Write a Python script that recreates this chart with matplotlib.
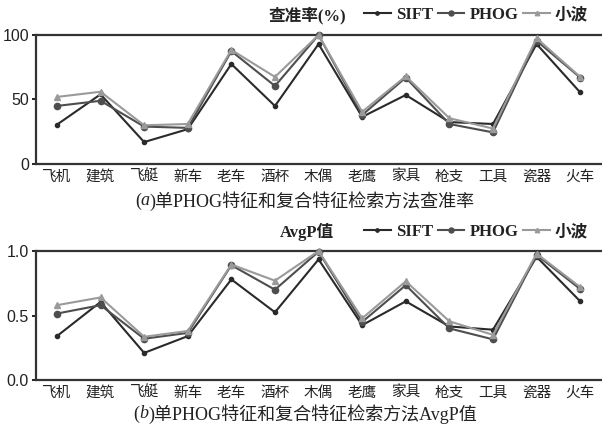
import matplotlib
matplotlib.use("Agg")
import matplotlib.pyplot as plt
from matplotlib.lines import Line2D

categories = ["飞机", "建筑", "飞艇", "新车", "老车", "酒杯", "木偶", "老鹰", "家具", "枪支", "工具", "瓷器", "火车"]

prec_sift = [30.5, 54, 17, 27, 77.5, 45, 93, 36.5, 53.5, 32.5, 31, 93, 55.5]
prec_phog = [45, 49, 29, 28, 87.5, 60.5, 100, 38, 67, 31, 24.5, 95.5, 67]
prec_wave = [52, 56, 30, 31, 88.5, 67.5, 100, 40.5, 68, 35.5, 27.5, 97.5, 67.5]

avgp_sift = [0.34, 0.605, 0.21, 0.34, 0.78, 0.525, 0.935, 0.425, 0.61, 0.415, 0.39, 0.955, 0.61]
avgp_phog = [0.515, 0.58, 0.32, 0.365, 0.89, 0.70, 0.995, 0.45, 0.735, 0.40, 0.315, 0.97, 0.705]
avgp_wave = [0.58, 0.64, 0.335, 0.38, 0.895, 0.77, 1.0, 0.478, 0.765, 0.455, 0.35, 0.98, 0.72]

series_names = ["SIFT", "PHOG", "小波"]
colors = ["#2a2a2a", "#4e4e4e", "#9a9a9a"]
markers = ["o", "o", "^"]
msizes = [3.0, 4.5, 4.0]

LAT = ["Liberation Serif", "Noto Sans CJK SC"]
CJK = ["Noto Sans CJK SC", "Liberation Serif"]

fig = plt.figure(figsize=(6.02, 4.34), dpi=100)
W, H = 602, 434

def make_ax(top_px, bot_px):
    return fig.add_axes([36 / W, 1 - bot_px / H, 1 - 36 / W, (bot_px - top_px) / H])

panels = [
    (35, 164, [prec_sift, prec_phog, prec_wave], 100, [0, 50, 100], ["0", "50", "100"],
     "查准率(%)", 15, "a", "单PHOG特征和复合特征检索方法查准率", 201),
    (251, 380, [avgp_sift, avgp_phog, avgp_wave], 1.0, [0, 0.5, 1.0], ["0.0", "0.5", "1.0"],
     "AvgP值", 232, "b", "单PHOG特征和复合特征检索方法AvgP值", 414),
]

fig.canvas.draw()
renderer = fig.canvas.get_renderer()

x = list(range(len(categories)))
for top, bot, data, ymax, yt, ytl, title, ty, letter, cap, cy in panels:
    ax = make_ax(top, bot)
    for vals, c, m, ms in zip(data, colors, markers, msizes):
        ax.plot(x, vals, color=c, lw=1.5, marker=m, ms=ms, mfc=c, mec=c, clip_on=False, zorder=3)
    ax.set_xlim(-0.48, 12.5)
    ax.set_ylim(0, ymax)
    ax.set_yticks(yt)
    ax.set_yticklabels(ytl, family="Liberation Sans", fontsize=11.5, color="#222222")
    ax.set_xticks(x)
    ax.set_xticklabels(categories, family=CJK, fontsize=10.5, fontweight="medium", color="#222222")
    ax.tick_params(axis="x", length=0, pad=4)
    ax.tick_params(axis="y", length=3, width=1.2, pad=2, direction="out")
    for s in ["left", "top", "bottom"]:
        ax.spines[s].set_linewidth(1.6)
        ax.spines[s].set_color("#333333")
    ax.spines["right"].set_visible(False)
    ax.patch.set_alpha(0)

    fig.text(307 / W, 1 - ty / H, title, family=LAT, fontsize=12, fontweight="bold",
             ha="center", va="center", color="#222222")
    handles = [Line2D([0], [0], color=c, lw=1.5, marker=m, ms=ms * 0.8, mfc=c, mec=c)
               for c, m, ms in zip(colors, markers, msizes)]
    leg = fig.legend(handles, series_names, loc="center left",
                     bbox_to_anchor=(364 / W, 1 - ty / H), ncol=3, frameon=False,
                     handlelength=1.6, handletextpad=0.3, columnspacing=0.3,
                     borderpad=0, borderaxespad=0,
                     prop={"family": LAT, "size": 12, "weight": "bold"})
    for t in leg.get_texts():
        t.set_color("#222222")

    # caption built from pieces so that the letter is italic
    pieces = [("(", "normal"), (letter, "italic"), (")" + cap, "normal")]
    texts = []
    for s, st in pieces:
        t = fig.text(0, 1 - cy / H, s, family=LAT, fontsize=13, style=st,
                     ha="left", va="center", color="#222222")
        texts.append(t)
    widths = [t.get_window_extent(renderer=renderer).width for t in texts]
    total = sum(widths)
    xpos = 305 - total / 2
    for t, w in zip(texts, widths):
        t.set_x(xpos / W)
        xpos += w

fig.savefig("out.png", dpi=100, facecolor="white")
